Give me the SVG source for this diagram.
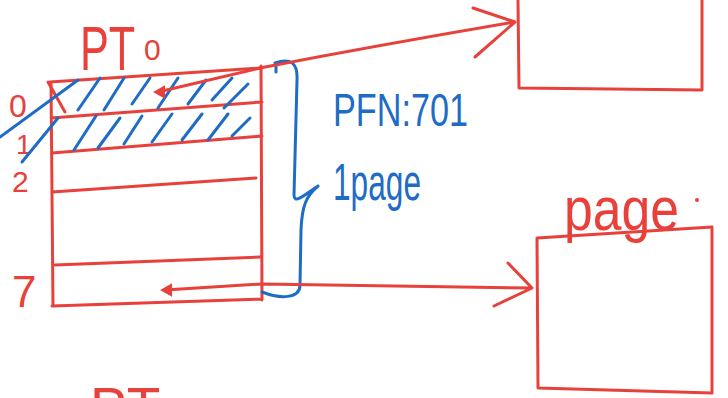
<svg xmlns="http://www.w3.org/2000/svg" width="728" height="398" viewBox="0 0 728 398">
<style>
.r{fill:none;stroke:#e8403a;stroke-width:3;stroke-linecap:round;stroke-linejoin:round}
.b{fill:none;stroke:#1f6cc4;stroke-width:3;stroke-linecap:round;stroke-linejoin:round}
.rt{fill:#e8403a;font-family:"Liberation Sans",sans-serif}
.bt{fill:#1f6cc4;font-family:"Liberation Sans",sans-serif}
</style>
<rect width="728" height="398" fill="#fff"/>
<g id="pt0">
  <text class="rt" transform="translate(80,70) scale(0.8,1.15)" font-size="54">PT</text>
  <text class="rt" x="144" y="60" font-size="30">0</text>
  <path class="r" d="M50,82 L260,68 M51,118 L262,102 M52,153 L262,136 M52,192 L256,178 M55,265 L260,257 M52,306 L262,299 M51,82 L53,306 M261,66 L262,300"/>
  <path class="r" d="M48,82 L65,112"/>
  <text class="rt" x="9" y="117" font-size="32">0</text>
  <text class="rt" x="16" y="154" font-size="28">1</text>
  <text class="rt" x="12" y="192" font-size="30">2</text>
  <text class="rt" x="12" y="307" font-size="44">7</text>
  <g class="b">
    <path d="M0,137 L78,80"/>
    <path d="M78,110 L100,78 M104,110 L124,78 M132,104 L150,78 M158,108 L178,78 M188,104 L206,80 M212,100 L232,78 M224,108 L248,84"/>
    <path d="M22,162 L58,118 M74,150 L96,116 M98,148 L120,118 M124,144 L142,116 M152,142 L172,114 M182,140 L202,114 M208,140 L228,114 M232,136 L250,118"/>
  </g>
  <path d="M155,92 L164,87 L164,97 Z" fill="#e8403a" stroke="#e8403a" stroke-width="2"/>
  <path d="M162,290 L171,285 L171,295 Z" fill="#e8403a" stroke="#e8403a" stroke-width="2"/>
</g>
<g id="brace">
  <path class="b" d="M275,63 C290,58 298,62 297,80 L294,195 C294,205 306,194 318,186 M318,186 C306,196 302,206 301,230 L300,285 C300,299 280,299 262,292"/>
  <path class="b" d="M276,66 L276,72"/>
</g>
<g id="labels">
  <text class="bt" x="333" y="126" font-size="46" textLength="135" lengthAdjust="spacingAndGlyphs">PFN:701</text>
  <text class="bt" x="333" y="200" font-size="52" textLength="88" lengthAdjust="spacingAndGlyphs">1page</text>
</g>
<g id="frame1">
  <path class="r" d="M518,0 L519,88 L702,90 L702,0"/>
</g>
<g id="page">
  <text class="rt" x="564" y="230" font-size="62" textLength="115" lengthAdjust="spacingAndGlyphs">page</text>
  <circle cx="697" cy="200" r="2" fill="#e8403a"/>
  <path class="r" d="M537,238 L712,227 L712,393 L538,388 Z"/>
</g>
<g id="connectors">
  <path class="r" d="M158,92 L260,68 Q380,45 515,22 M473,8 L515,22 L475,57"/>
  <path class="r" d="M165,290 L262,284 L532,288 M508,263 L532,288 L494,306"/>
</g>
<g id="pt1">
  <text class="rt" x="90" y="426" font-size="55">PT</text>
</g>
</svg>
